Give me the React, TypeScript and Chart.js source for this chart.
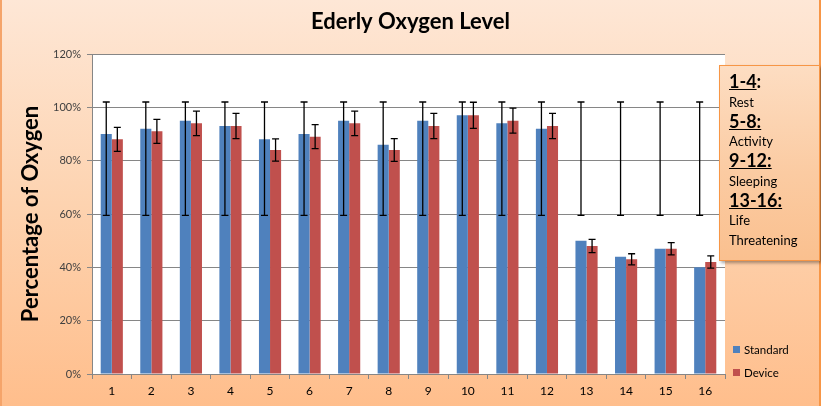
import React, { useEffect, useRef } from "react";
import { Chart, registerables } from "chart.js";

Chart.register(...registerables);

const FONT = "Lato, 'Open Sans', 'DejaVu Sans', sans-serif";

const titleText = "Ederly Oxygen Level";
const yAxisTitle = "Percentage of Oxygen";
const categories = ["1", "2", "3", "4", "5", "6", "7", "8", "9", "10", "11", "12", "13", "14", "15", "16"];
const seriesNames = ["Standard", "Device"];
const seriesColors = ["#4F81BD", "#C0504D"];
const standardValues = [90, 92, 95, 93, 88, 90, 95, 86, 95, 97, 94, 92, 50, 44, 47, 40];
const deviceValues = [88, 91, 94, 93, 84, 89, 94, 84, 93, 97, 95, 93, 48, 43, 47, 42];
const standardErrLow = [59.5, 59.5, 59.5, 59.5, 59.5, 59.5, 59.5, 59.5, 59.5, 59.5, 59.5, 59.5, 59.5, 59.5, 59.5, 59.5];
const standardErrHigh = [102, 102, 102, 102, 102, 102, 102, 102, 102, 102, 102, 102, 102, 102, 102, 102];
const deviceErr = [4.5, 4.5, 4.6, 4.7, 4.2, 4.5, 4.6, 4.3, 4.7, 4.9, 4.7, 4.7, 2.5, 2.1, 2.3, 2.3];
const yMin = 0;
const yMax = 120;
const yStep = 20;

const noteLines: { text: string; bold: boolean; suffix?: string }[] = [
  { text: "1-4", bold: true, suffix: ":" },
  { text: "Rest", bold: false },
  { text: "5-8:", bold: true },
  { text: "Activity", bold: false },
  { text: "9-12:", bold: true },
  { text: "Sleeping", bold: false },
  { text: "13-16:", bold: true },
  { text: "Life", bold: false },
  { text: "Threatening", bold: false },
];

const plotBgPlugin = {
  id: "plotBg",
  beforeDraw(chart: any) {
    const { ctx, chartArea } = chart;
    ctx.save();
    ctx.fillStyle = "#FFFFFF";
    ctx.fillRect(chartArea.left, chartArea.top, chartArea.right - chartArea.left, chartArea.bottom - chartArea.top);
    ctx.restore();
  },
};

function drawErr(ctx: CanvasRenderingContext2D, x: number, yTop: number, yBot: number) {
  const cap = 3.5;
  ctx.beginPath();
  ctx.moveTo(x, yTop);
  ctx.lineTo(x, yBot);
  ctx.moveTo(x - cap, yTop);
  ctx.lineTo(x + cap, yTop);
  ctx.moveTo(x - cap, yBot);
  ctx.lineTo(x + cap, yBot);
  ctx.stroke();
}

const errorBarPlugin = {
  id: "errorBars",
  afterDatasetsDraw(chart: any) {
    const { ctx } = chart;
    const y = chart.scales.y;
    ctx.save();
    ctx.strokeStyle = "#000000";
    ctx.lineWidth = 1.3;
    chart.getDatasetMeta(0).data.forEach((bar: any, i: number) => {
      drawErr(ctx, bar.x, y.getPixelForValue(standardErrHigh[i]), y.getPixelForValue(standardErrLow[i]));
    });
    chart.getDatasetMeta(1).data.forEach((bar: any, i: number) => {
      drawErr(
        ctx,
        bar.x,
        y.getPixelForValue(deviceValues[i] + deviceErr[i]),
        y.getPixelForValue(deviceValues[i] - deviceErr[i])
      );
    });
    ctx.restore();
  },
};

export default function App() {
  const canvasRef = useRef<HTMLCanvasElement | null>(null);

  useEffect(() => {
    if (!canvasRef.current) return;
    const chart = new Chart(canvasRef.current, {
      type: "bar",
      data: {
        labels: categories,
        datasets: [
          {
            label: seriesNames[0],
            data: standardValues,
            backgroundColor: seriesColors[0],
            categoryPercentage: 0.56,
            barPercentage: 1,
          },
          {
            label: seriesNames[1],
            data: deviceValues,
            backgroundColor: seriesColors[1],
            categoryPercentage: 0.56,
            barPercentage: 1,
          },
        ],
      },
      options: {
        responsive: false,
        animation: false,
        devicePixelRatio: 1,
        layout: { padding: { left: 0, right: 0, top: 0, bottom: 0 } },
        plugins: {
          legend: { display: false },
          tooltip: { enabled: false },
          title: {
            display: true,
            text: titleText,
            color: "#000000",
            font: { family: FONT, size: 22, weight: "bold" },
            padding: { top: 9, bottom: 18.6 },
          },
        },
        scales: {
          x: {
            grid: { drawOnChartArea: false, drawTicks: true, tickLength: 5, color: "#868686", offset: true },
            border: { color: "#868686", width: 1 },
            ticks: { color: "#000000", font: { family: FONT, size: 12 }, padding: 5 },
            afterFit: (s: any) => {
              s.height = 32;
            },
          },
          y: {
            min: yMin,
            max: yMax,
            ticks: {
              stepSize: yStep,
              color: "#404040",
              font: { family: FONT, size: 11 },
              padding: 6,
              callback: (v: any) => v + "%",
            },
            grid: { color: "#868686", tickLength: 5 },
            border: { color: "#868686", width: 1 },
            title: {
              display: true,
              text: yAxisTitle,
              color: "#000000",
              font: { family: FONT, size: 22, weight: "bold" },
              padding: { top: 18, bottom: 0 },
            },
            afterFit: (s: any) => {
              s.width = 92;
            },
          },
          side: {
            type: "linear",
            position: "right",
            display: true,
            min: yMin,
            max: yMax,
            grid: { display: false },
            border: { display: false },
            ticks: { display: false },
            afterFit: (s: any) => {
              s.width = 96;
            },
          },
        },
      },
      plugins: [plotBgPlugin, errorBarPlugin],
    } as any);
    return () => chart.destroy();
  }, []);

  return (
    <div
      style={{
        position: "absolute",
        left: 0,
        top: 0,
        width: 821,
        height: 406,
        overflow: "hidden",
        background: "linear-gradient(to bottom, #FEE7D6 0%, #FDD3B0 50%, #FFBE8C 100%)",
        fontFamily: FONT,
      }}
    >
      <div style={{ position: "absolute", left: 0, top: 0, width: 2, height: 406, background: "#F5A46A" }} />
      <div style={{ position: "absolute", left: 819, top: 0, width: 2, height: 406, background: "#F79646" }} />
      <canvas ref={canvasRef} width={821} height={406} style={{ position: "absolute", left: 0, top: 0 }} />
      {seriesNames.map((name, i) => (
        <div
          key={name}
          style={{
            position: "absolute",
            left: 733,
            top: 341 + i * 23,
            height: 16,
            display: "flex",
            alignItems: "center",
            fontSize: 11.5,
            color: "#000",
          }}
        >
          <span style={{ display: "inline-block", width: 7, height: 7, background: seriesColors[i], marginRight: 4 }} />
          <span>{name}</span>
        </div>
      ))}
      <div
        style={{
          position: "absolute",
          left: 719,
          top: 65,
          width: 101,
          height: 196,
          boxSizing: "border-box",
          border: "1px solid #F79646",
          background: "linear-gradient(to bottom, #FDDDC2 0%, #FBCBA2 55%, #FAC08F 100%)",
          boxShadow: "2px 2px 3px rgba(0,0,0,0.35)",
          padding: "6px 0 0 9px",
          color: "#000",
        }}
      >
        {noteLines.map((l, i) =>
          l.bold ? (
            <div key={i} style={{ fontSize: 18, fontWeight: "bold", lineHeight: "19.6px", height: 19.6, whiteSpace: "nowrap" }}>
              <span style={{ textDecoration: "underline" }}>{l.text}</span>
              {l.suffix ? <span>{l.suffix}</span> : null}
            </div>
          ) : (
            <div key={i} style={{ fontSize: 13, lineHeight: "20px", height: 20, whiteSpace: "nowrap" }}>
              {l.text}
            </div>
          )
        )}
      </div>
    </div>
  );
}
